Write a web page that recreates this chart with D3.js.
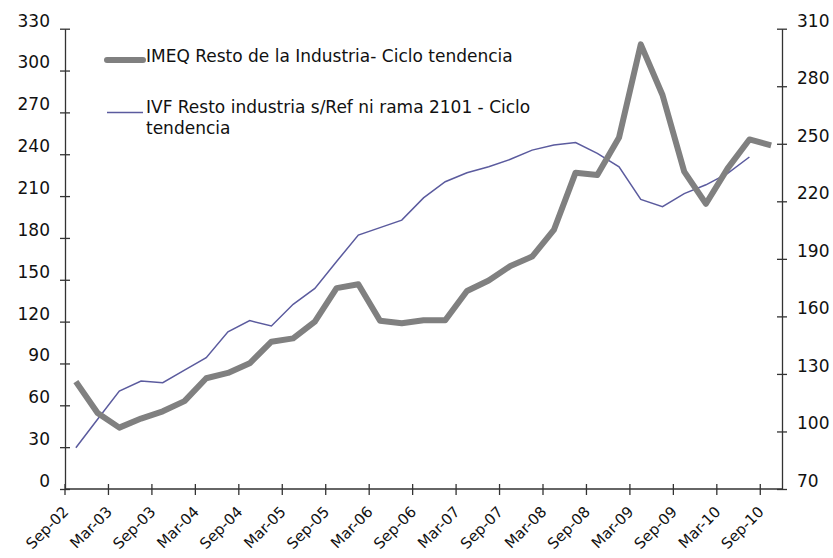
<!DOCTYPE html>
<meta charset="utf-8">
<script src="https://d3js.org/d3.v7.min.js"></script>
<style>
  body { margin: 0; background: #fff; }
  text { font-family: "DejaVu Sans", sans-serif; fill: #111; }
</style>
<div id="my_dataviz"></div>
<script>
// quarterly categories, Sep-02 .. Sep-10
var quarters = ["Sep-02","Dec-02","Mar-03","Jun-03","Sep-03","Dec-03","Mar-04","Jun-04",
  "Sep-04","Dec-04","Mar-05","Jun-05","Sep-05","Dec-05","Mar-06","Jun-06",
  "Sep-06","Dec-06","Mar-07","Jun-07","Sep-07","Dec-07","Mar-08","Jun-08",
  "Sep-08","Dec-08","Mar-09","Jun-09","Sep-09","Dec-09","Mar-10","Jun-10","Sep-10"];

// IMEQ (left axis)
var imeq = [77, 54.5, 44, 50.5, 55.7, 63, 79.4, 83.2, 90.1, 105.6, 108, 120,
  144, 146.8, 120.6, 118.8, 121, 121, 142, 149.5, 159.9, 166.6, 185.7, 226.8,
  225.1, 252, 318.8, 282.5, 227.5, 204.5, 229.9, 250.6, 246.4];

// IVF (right axis), no value for last quarter
var ivf = [91.5, 106.4, 121.1, 126.3, 125.4, 132, 138.5, 152, 157.8, 155, 166.3, 174.6,
  188.6, 202.4, 206.3, 210.2, 221.8, 230.2, 234.9, 238, 241.9, 246.7, 249.4, 250.6,
  245, 238, 221, 217.2, 224, 228.6, 234.6, 243.1, null];

var leftTicks = d3.range(0, 331, 30);
var rightTicks = d3.range(70, 311, 30);
var labelEvery = 2;

var legendNames = ["IMEQ Resto de la Industria- Ciclo tendencia",
  ["IVF Resto industria s/Ref ni rama 2101 - Ciclo", "tendencia"]];

var W = 833, H = 558;
var margin = {top: 28.7, right: 51, bottom: 69, left: 65},
    width = W - margin.left - margin.right,
    height = H - margin.top - margin.bottom;

var fs = "17px";

var svg = d3.select("#my_dataviz")
  .append("svg")
    .attr("width", W)
    .attr("height", H)
  .append("g")
    .attr("transform", "translate(" + margin.left + "," + margin.top + ")");

var x = d3.scaleBand()
  .domain(quarters)
  .range([0, width])
  .padding(0);

var yL = d3.scaleLinear().domain([0, 330]).range([height, 0]);
var yR = d3.scaleLinear().domain([70, 310]).range([height, 0]);

var axisColor = "#333";

// left axis
var gl = svg.append("g")
  .call(d3.axisLeft(yL).tickValues(leftTicks).tickSize(0).tickFormat(d3.format("d")));
gl.select(".domain").attr("stroke", axisColor).attr("stroke-width", 1.3);
gl.selectAll(".tick text")
  .attr("x", -15).attr("dy", "-0.15em")
  .style("font-size", fs).style("font-family", "DejaVu Sans");
gl.selectAll(".tick").append("line")
  .attr("x1", -5).attr("x2", 5).attr("stroke", axisColor).attr("stroke-width", 1.3);

// right axis
var gr = svg.append("g")
  .attr("transform", "translate(" + width + ",0)")
  .call(d3.axisRight(yR).tickValues(rightTicks).tickSize(0).tickFormat(d3.format("d")));
gr.select(".domain").attr("stroke", axisColor).attr("stroke-width", 1.3);
gr.selectAll(".tick text")
  .attr("x", 15).attr("dy", "-0.15em")
  .style("font-size", fs).style("font-family", "DejaVu Sans");
gr.selectAll(".tick").append("line")
  .attr("x1", -5).attr("x2", 5).attr("stroke", axisColor).attr("stroke-width", 1.3);

// bottom axis: ticks every two quarters at category boundaries
var gx = svg.append("g").attr("transform", "translate(0," + height + ")");
gx.append("line")
  .attr("x1", 0).attr("x2", width)
  .attr("stroke", axisColor).attr("stroke-width", 1.3);
var tickCats = quarters.filter(function(d, i) { return i % labelEvery == 0; });
gx.selectAll("line.tk")
  .data(tickCats)
  .enter().append("line")
    .attr("class", "tk")
    .attr("x1", function(d) { return x(d); })
    .attr("x2", function(d) { return x(d); })
    .attr("y1", -5).attr("y2", 6)
    .attr("stroke", axisColor).attr("stroke-width", 1.3);
gx.selectAll("text")
  .data(tickCats)
  .enter().append("text")
    .attr("transform", function(d) {
      return "translate(" + (x(d) + x.bandwidth() / 2 - 10) + ",20) rotate(-45)";
    })
    .attr("text-anchor", "end")
    .attr("dy", "0.35em")
    .style("font-size", "15px")
    .text(function(d) { return d; });

// lines
var lineL = d3.line()
  .x(function(d, i) { return x(quarters[i]) + x.bandwidth() / 2; })
  .y(function(d) { return yL(d); });
var lineR = d3.line()
  .defined(function(d) { return d != null; })
  .x(function(d, i) { return x(quarters[i]) + x.bandwidth() / 2; })
  .y(function(d) { return yR(d); });

svg.append("path")
  .datum(ivf)
  .attr("fill", "none")
  .attr("stroke", "#5b5b9e")
  .attr("stroke-width", 1.5)
  .attr("d", lineR);

svg.append("path")
  .datum(imeq)
  .attr("fill", "none")
  .attr("stroke", "#808080")
  .attr("stroke-width", 6)
  .attr("stroke-linejoin", "round")
  .attr("d", lineL);

// legend
var lg = svg.append("g").attr("transform", "translate(" + (-margin.left) + "," + (-margin.top) + ")");
lg.append("line")
  .attr("x1", 107).attr("x2", 143).attr("y1", 60).attr("y2", 60)
  .attr("stroke", "#808080").attr("stroke-width", 6).attr("stroke-linecap", "round");
lg.append("text")
  .attr("x", 146).attr("y", 62)
  .style("font-size", fs)
  .text(legendNames[0]);
lg.append("line")
  .attr("x1", 107).attr("x2", 143).attr("y1", 112.5).attr("y2", 112.5)
  .attr("stroke", "#5b5b9e").attr("stroke-width", 1.5);
lg.append("text")
  .attr("x", 146).attr("y", 113)
  .style("font-size", fs)
  .text(legendNames[1][0]);
lg.append("text")
  .attr("x", 146).attr("y", 134)
  .style("font-size", fs)
  .text(legendNames[1][1]);
</script>
